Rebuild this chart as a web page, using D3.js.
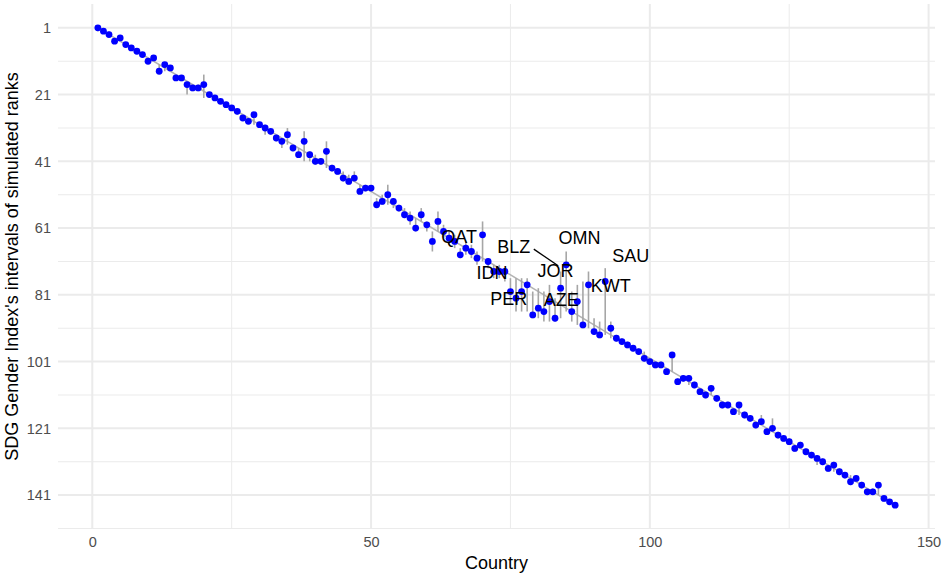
<!DOCTYPE html>
<html>
<head>
<meta charset="utf-8">
<script src="https://cdn.jsdelivr.net/npm/d3@7"></script>
<style>
  html, body { margin: 0; padding: 0; background: #fff; }
  svg { display: block; font-family: "Liberation Sans", Arial, sans-serif; }
</style>
</head>
<body>
<div id="chart"></div>
<script>
// median simulated rank per country (countries are 1..144 in index order)
const rankMid = [
  1, 2, 3, 5, 4, 6, 7, 8, 9, 11, 10, 14, 12, 13, 16, 16, 18, 19, 19, 18, 21, 22, 23, 24,
  25, 26, 28, 29, 27, 30, 31, 32, 34, 35, 33, 37, 39, 35, 39, 41, 41, 38, 43, 44, 46, 47, 46, 50, 49,
  49, 54, 53, 51, 53, 55, 57, 58, 61, 57, 60, 65, 59, 62, 64, 65, 69, 67, 68, 70, 63, 71, 74, 74, 74,
  80, 82, 80, 78, 87, 85, 86, 83, 88, 79, 72, 86, 83, 90, 78, 92, 93, 77, 91, 94, 95, 96,
  97, 98, 100, 101, 102, 102, 104, 99, 107, 106, 106, 108, 110, 111, 109, 112, 114, 114, 116, 114, 117, 118, 120, 119,
  122, 121, 123, 124, 125, 127, 126, 128, 129, 130, 131, 133, 132, 134, 135, 137, 136, 138, 140, 140, 138, 142, 143, 144
];
// interval of simulated ranks (best, worst)
const rankLo = [
  1, 2, 2, 4, 4, 6, 7, 8, 9, 10, 10, 12, 12, 13, 15, 16, 17, 18, 18, 15, 21, 22, 23, 24,
  25, 26, 27, 28, 27, 30, 30, 32, 33, 34, 31, 36, 37, 32, 38, 39, 40, 35, 42, 43, 44, 45, 44, 48, 48,
  49, 52, 51, 48, 52, 54, 55, 56, 58, 55, 59, 62, 56, 60, 62, 63, 67, 65, 66, 68, 59, 70, 72, 72, 73,
  76, 76, 76, 76, 80, 79, 80, 78, 82, 74, 68, 80, 78, 77, 74, 88, 89, 73, 89, 93, 94, 95,
  96, 97, 98, 100, 101, 101, 103, 99, 106, 105, 105, 107, 109, 110, 108, 111, 113, 113, 115, 114, 116, 117, 119, 117,
  121, 118, 122, 124, 124, 126, 125, 127, 128, 129, 130, 132, 131, 133, 135, 135, 135, 137, 139, 139, 138, 142, 143, 144
];
const rankHi = [
  2, 2, 3, 5, 5, 6, 7, 8, 9, 11, 11, 14, 14, 14, 16, 17, 21, 20, 20, 22, 22, 22, 23, 24,
  25, 27, 28, 29, 30, 31, 33, 33, 35, 37, 36, 38, 40, 41, 41, 42, 42, 43, 44, 45, 47, 48, 47, 50, 50,
  50, 54, 54, 54, 55, 56, 58, 60, 62, 59, 62, 68, 62, 64, 66, 67, 70, 69, 70, 72, 71, 73, 76, 76, 77,
  84, 86, 86, 86, 88, 88, 89, 89, 89, 88, 86, 89, 90, 91, 91, 93, 94, 93, 94, 95, 96, 97,
  98, 99, 101, 102, 103, 103, 105, 104, 107, 107, 108, 109, 111, 112, 111, 113, 115, 115, 117, 117, 118, 119, 121, 120,
  123, 122, 124, 125, 126, 128, 127, 129, 130, 132, 132, 134, 134, 135, 136, 138, 137, 139, 141, 141, 141, 143, 143, 144
];

// labelled countries and where the repelled label text sits (country axis, rank axis)
const labelCodes = ['QAT', 'BLZ', 'OMN', 'SAU', 'IDN', 'JOR', 'KWT', 'PER', 'AZE'];
const labelCountry = [70, 85, 85, 92, 73, 84, 92, 76, 84];
const labelX = [65.8, 75.6, 87.4, 96.6, 71.7, 83.1, 93.0, 74.7, 84.1];
const labelY = [63.7, 66.7, 64.0, 69.4, 74.5, 73.9, 78.4, 82.3, 82.6];
const labelLeader = [false, true, false, false, false, false, false, false, false];

const xTicks = [0, 50, 100, 150];
const yTicks = [1, 21, 41, 61, 81, 101, 121, 141];

const W = 942, H = 575;
const pad = { top: 4, right: 7, bottom: 46, left: 58 };

const data = rankMid.map((r, i) => ({ country: i + 1, rank: r, lo: rankLo[i], hi: rankHi[i] }));

// ggplot-style 5% expansion
const expand = ([a, b]) => { const e = (b - a) * 0.05; return [a - e, b + e]; };
const xDom = expand(d3.extent(data, d => d.country));
const yDom = expand([d3.min(data, d => d.lo), d3.max(data, d => d.hi)]);

const x = d3.scaleLinear().domain(xDom).range([pad.left, W - pad.right]);
const y = d3.scaleLinear().domain(yDom).range([pad.top, H - pad.bottom]);

const minorOf = (ticks, dom) => {
  const step = ticks[1] - ticks[0];
  const out = [];
  for (let v = ticks[0] - step / 2; v <= ticks[ticks.length - 1] + step; v += step) {
    if (v >= dom[0] && v <= dom[1]) out.push(v);
  }
  return out;
};

const svg = d3.select('#chart').append('svg').attr('width', W).attr('height', H);

const grid = svg.append('g');
grid.selectAll('line.ymin').data(minorOf(yTicks, yDom)).enter().append('line')
  .attr('x1', x.range()[0]).attr('x2', x.range()[1])
  .attr('y1', d => y(d)).attr('y2', d => y(d))
  .attr('stroke', '#ebebeb').attr('stroke-width', 1);
grid.selectAll('line.xmin').data(minorOf(xTicks, xDom)).enter().append('line')
  .attr('y1', y.range()[0]).attr('y2', y.range()[1])
  .attr('x1', d => x(d)).attr('x2', d => x(d))
  .attr('stroke', '#ebebeb').attr('stroke-width', 1);
grid.selectAll('line.ymaj').data(yTicks).enter().append('line')
  .attr('x1', x.range()[0]).attr('x2', x.range()[1])
  .attr('y1', d => y(d)).attr('y2', d => y(d))
  .attr('stroke', '#ebebeb').attr('stroke-width', 2);
grid.selectAll('line.xmaj').data(xTicks).enter().append('line')
  .attr('y1', y.range()[0]).attr('y2', y.range()[1])
  .attr('x1', d => x(d)).attr('x2', d => x(d))
  .attr('stroke', '#ebebeb').attr('stroke-width', 2);

// axes (text only, theme_minimal)
const yAxis = svg.append('g').attr('transform', `translate(${pad.left},0)`)
  .call(d3.axisLeft(y).tickValues(yTicks).tickSize(0).tickPadding(7));
const xAxis = svg.append('g').attr('transform', `translate(0,${H - pad.bottom})`)
  .call(d3.axisBottom(x).tickValues(xTicks).tickSize(0).tickPadding(8));
[yAxis, xAxis].forEach(a => {
  a.select('.domain').remove();
  a.selectAll('text').attr('fill', '#4d4d4d').attr('font-size', 14.5)
    .attr('font-family', '"Liberation Sans", Arial, sans-serif');
});

svg.append('text').attr('x', (x.range()[0] + x.range()[1]) / 2).attr('y', H - 6)
  .attr('text-anchor', 'middle').attr('font-size', 18).attr('fill', '#000').text('Country');
svg.append('text')
  .attr('transform', `translate(18,${(y.range()[0] + y.range()[1]) / 2}) rotate(-90)`)
  .attr('text-anchor', 'middle').attr('font-size', 18).attr('fill', '#000')
  .text("SDG Gender Index's intervals of simulated ranks");

const plot = svg.append('g');

// reference diagonal
plot.append('line')
  .attr('x1', x(1)).attr('y1', y(1)).attr('x2', x(data.length)).attr('y2', y(data.length))
  .attr('stroke', '#b3b3b3').attr('stroke-width', 1.6);

plot.append('g').selectAll('line').data(data).enter().append('line')
  .attr('x1', d => x(d.country)).attr('x2', d => x(d.country))
  .attr('y1', d => y(d.lo)).attr('y2', d => y(d.hi))
  .attr('stroke', '#a6a6a6').attr('stroke-width', 1.6);

plot.append('g').selectAll('circle').data(data).enter().append('circle')
  .attr('cx', d => x(d.country)).attr('cy', d => y(d.rank))
  .attr('r', 3.4).attr('fill', '#0000ff');

// repelled labels
const labels = labelCodes.map((code, i) => ({
  code, lx: labelX[i], ly: labelY[i], pt: data[labelCountry[i] - 1], leader: labelLeader[i]
}));

labels.filter(d => d.leader).forEach(d => {
  const x0 = x(d.lx), y0 = y(d.ly), x1 = x(d.pt.country), y1 = y(d.pt.rank);
  plot.append('line')
    .attr('x1', x0 + 20).attr('y1', y0 + 2)
    .attr('x2', x1 - 8).attr('y2', y1 + 1)
    .attr('stroke', '#000').attr('stroke-width', 1.3);
});

plot.append('g').selectAll('text').data(labels).enter().append('text')
  .attr('x', d => x(d.lx)).attr('y', d => y(d.ly))
  .attr('text-anchor', 'middle').attr('dominant-baseline', 'central')
  .attr('font-size', 18).attr('fill', '#000').text(d => d.code);
</script>
</body>
</html>
